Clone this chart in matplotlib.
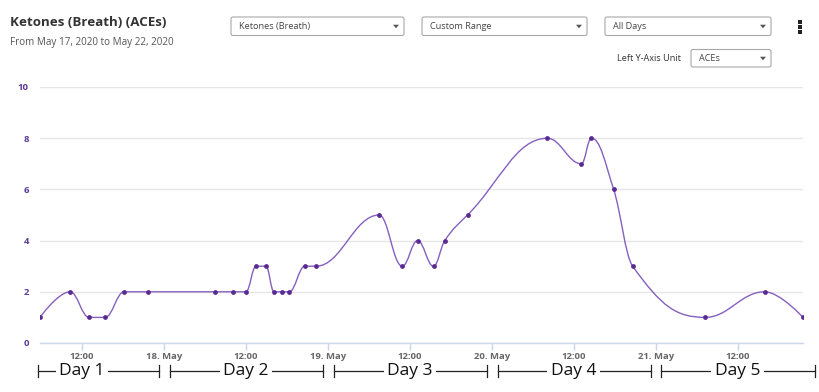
import numpy as np
import pandas as pd
import matplotlib
matplotlib.use("Agg")
import matplotlib.pyplot as plt
import matplotlib.dates as mdates
import matplotlib.transforms as mtransforms
from matplotlib.path import Path
from matplotlib.patches import PathPatch, FancyBboxPatch, Polygon

plt.rcParams['font.family'] = ['Open Sans', 'DejaVu Sans']

# readings (ACEs)
times = [
    "2020-05-17 05:50", "2020-05-17 10:15", "2020-05-17 13:02", "2020-05-17 15:22",
    "2020-05-17 18:09", "2020-05-17 21:40",
    "2020-05-18 07:28", "2020-05-18 10:09", "2020-05-18 12:00", "2020-05-18 13:28",
    "2020-05-18 14:56", "2020-05-18 16:06", "2020-05-18 17:13", "2020-05-18 18:20",
    "2020-05-18 20:38", "2020-05-18 22:17",
    "2020-05-19 07:30", "2020-05-19 10:53", "2020-05-19 13:08", "2020-05-19 15:28",
    "2020-05-19 17:07", "2020-05-19 20:27",
    "2020-05-20 08:09", "2020-05-20 13:08", "2020-05-20 14:35", "2020-05-20 17:51",
    "2020-05-20 20:38",
    "2020-05-21 07:16", "2020-05-21 15:57", "2020-05-21 21:35",
]
values = [1, 2, 1, 1, 2, 2,
          2, 2, 2, 3, 3, 2, 2, 2, 3, 3,
          5, 3, 4, 3, 4, 5,
          8, 7, 8, 6, 3,
          1, 2, 1]

day_names = ["Day 1", "Day 2", "Day 3", "Day 4", "Day 5"]
day_starts = ["2020-05-17", "2020-05-18", "2020-05-19", "2020-05-20", "2020-05-21"]

title = "Ketones (Breath) (ACEs)"
subtitle = "From May 17, 2020 to May 22, 2020"
dropdowns = ["Ketones (Breath)", "Custom Range", "All Days"]

LINE = '#8560bf'
DOT = '#5a2a92'
YLAB = '#5e3a96'


def spline_path(xs, ys, smoothing=1.5):
    # highcharts-style spline (cubic bezier with clamped control points)
    denom = smoothing + 1
    n = len(xs)
    left = [(xs[i], ys[i]) for i in range(n)]
    right = [(xs[i], ys[i]) for i in range(n)]
    for i in range(1, n - 1):
        lx, ly = xs[i - 1], ys[i - 1]
        nx, ny = xs[i + 1], ys[i + 1]
        px, py = xs[i], ys[i]
        lcx = (smoothing * px + lx) / denom
        lcy = (smoothing * py + ly) / denom
        rcx = (smoothing * px + nx) / denom
        rcy = (smoothing * py + ny) / denom
        if rcx != lcx:
            corr = (rcy - lcy) * (rcx - px) / (rcx - lcx) + py - rcy
            lcy += corr
            rcy += corr
        if lcy > ly and lcy > py:
            lcy = max(ly, py)
            rcy = 2 * py - lcy
        elif lcy < ly and lcy < py:
            lcy = min(ly, py)
            rcy = 2 * py - lcy
        if rcy > ny and rcy > py:
            rcy = max(ny, py)
            lcy = 2 * py - rcy
        elif rcy < ny and rcy < py:
            rcy = min(ny, py)
            lcy = 2 * py - rcy
        left[i] = (lcx, lcy)
        right[i] = (rcx, rcy)
    verts = [(xs[0], ys[0])]
    codes = [Path.MOVETO]
    for i in range(1, n):
        verts += [right[i - 1], left[i], (xs[i], ys[i])]
        codes += [Path.CURVE4] * 3
    return Path(verts, codes)


t = pd.to_datetime(times)
x = mdates.date2num(t.to_pydatetime())
y = np.array(values, dtype=float)

fig = plt.figure(figsize=(8.2, 3.92), dpi=100)
W, H = 820, 392

# overlay in pixel coordinates for the header widgets
ov = fig.add_axes([0, 0, 1, 1])
ov.set_xlim(0, W)
ov.set_ylim(H, 0)
ov.axis('off')

ax = fig.add_axes([40 / W, 1 - 343 / H, 763 / W, 256 / H])
ax.patch.set_alpha(0)

ax.add_patch(PathPatch(spline_path(x, y), fc='none', ec=LINE, lw=1.0, zorder=3))
ax.scatter(x, y, s=12, color=DOT, zorder=4, linewidths=0)

ax.set_xlim(x.min(), x.max())
ax.set_ylim(0, 10)
ax.set_yticks(range(0, 11, 2))
ax.grid(axis='y', color='#e6e6e6', lw=1)
ax.set_axisbelow(True)
for s in ['top', 'right', 'left']:
    ax.spines[s].set_visible(False)
ax.spines['bottom'].set_color('#ccd6eb')
ax.spines['bottom'].set_linewidth(1)

ax.xaxis.set_major_locator(mdates.HourLocator(byhour=[0, 12]))


def fmt_date(v, pos=None):
    d = mdates.num2date(v)
    return d.strftime('%H:%M') if d.hour else f"{d.day}. {d.strftime('%b')}"


ax.xaxis.set_major_formatter(plt.FuncFormatter(fmt_date))
ax.tick_params(axis='x', length=5.2, width=1, color='#ccd6eb', pad=1,
               labelsize=6.8, labelcolor='#666666')
ax.tick_params(axis='y', length=0, pad=8, labelsize=6.8, labelcolor=YLAB)
for lab in ax.get_xticklabels() + ax.get_yticklabels():
    lab.set_fontweight('bold')

# day brackets under the axis
tr = mtransforms.blended_transform_factory(ax.transData, ax.transAxes)
yb = -0.109
hb = 0.024
xmin, xmax = ax.get_xlim()
for name, ds in zip(day_names, day_starts):
    d0 = mdates.date2num(pd.Timestamp(ds).to_pydatetime())
    a = max(d0 + 0.035, xmin - 0.014)
    b = d0 + 0.972
    ax.plot([a, b], [yb, yb], color='#222222', lw=0.9, transform=tr, clip_on=False)
    for e in (a, b):
        ax.plot([e, e], [yb - hb, yb + hb], color='#222222', lw=0.9,
                transform=tr, clip_on=False)
    ax.text(d0 + 0.5, yb, name, transform=tr, ha='center', va='center',
            fontsize=12.5, color='#111111', clip_on=False,
            bbox=dict(boxstyle='square,pad=0.2', fc='white', ec='none'))

# header
ov.text(10, 22, title, fontsize=9.6, fontweight='bold', color='#333333',
        ha='left', va='center')
ov.text(10, 42, subtitle, fontsize=7.1, color='#555555', ha='left', va='center')


def dropdown(x0, x1, y0, y1, label):
    ov.add_patch(FancyBboxPatch((x0, y0), x1 - x0, y1 - y0,
                                boxstyle='round,pad=0,rounding_size=2',
                                fc='white', ec='#a8a8a8', lw=0.8))
    ov.text(x0 + 8, (y0 + y1) / 2, label, fontsize=6.6, color='#444444',
            ha='left', va='center')
    cx, cy = x1 - 8, (y0 + y1) / 2
    ov.add_patch(Polygon([(cx - 3, cy - 1.5), (cx + 3, cy - 1.5), (cx, cy + 2)],
                         closed=True, fc='#555555', ec='none'))


dropdown(231, 404, 17, 35.5, dropdowns[0])
dropdown(422, 587, 17, 35.5, dropdowns[1])
dropdown(605, 771, 17, 35.5, dropdowns[2])
dropdown(691, 771, 49.5, 67, "ACEs")
ov.text(681, 58, "Left Y-Axis Unit", fontsize=6.6, color='#333333',
        ha='right', va='center')
ov.plot([800, 800, 800], [21.5, 26.5, 31.5], 's', color='#222222', ms=2.2, mew=0)

fig.savefig('out.png', dpi=100)
